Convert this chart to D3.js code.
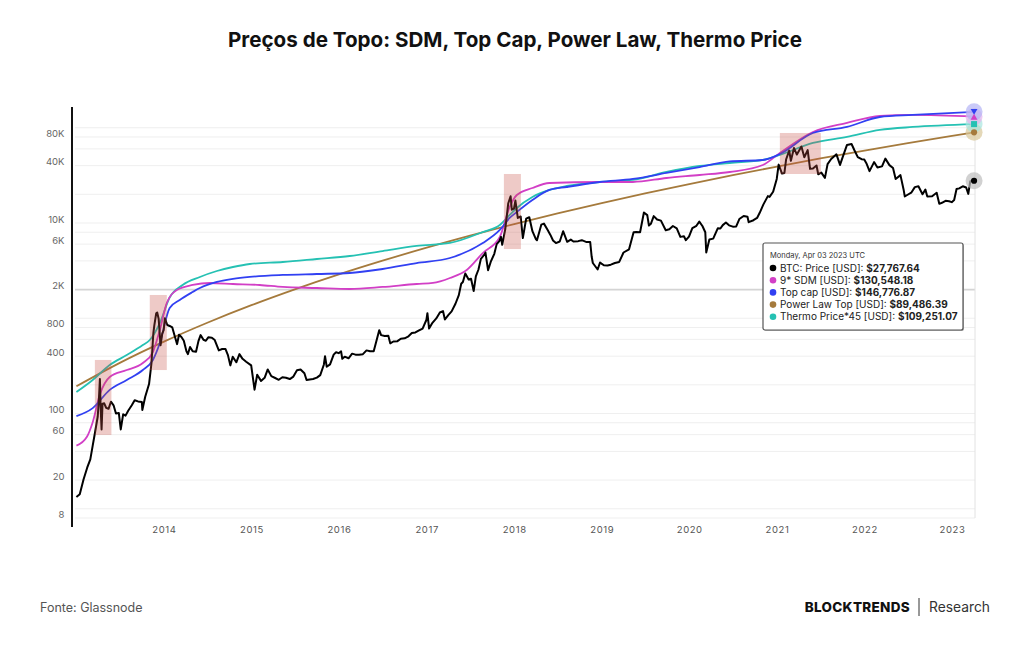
<!DOCTYPE html>
<html>
<head>
<meta charset="utf-8">
<script src="https://cdn.jsdelivr.net/npm/d3@7"></script>
<style>
  body { margin: 0; background: #fff; }
  svg { font-family: Inter, "Noto Sans", sans-serif; }
</style>
</head>
<body>
<div id="chart"></div>
<script>
// BTC price (USD)
var btcPrice = [
  ["2013-01-01",13.3],["2013-01-15",14.2],["2013-01-31",20.4],["2013-02-15",27],["2013-02-28",33],
  ["2013-03-10",46],["2013-03-20",64],["2013-03-31",93],["2013-04-05",142],["2013-04-09",230],
  ["2013-04-12",118],["2013-04-16",68],["2013-04-20",127],["2013-04-27",128],["2013-05-05",115],
  ["2013-05-15",112],["2013-05-25",133],["2013-06-05",122],["2013-06-15",100],["2013-06-27",101],
  ["2013-07-05",68],["2013-07-15",98],["2013-07-25",95],["2013-08-05",107],["2013-08-20",122],
  ["2013-09-01",138],["2013-09-15",134],["2013-10-01",132],["2013-10-03",109],["2013-10-15",150],
  ["2013-10-31",204],["2013-11-10",335],["2013-11-18",700],["2013-11-22",840],["2013-11-30",1130],
  ["2013-12-04",1150],["2013-12-10",990],["2013-12-18",520],["2013-12-25",690],["2013-12-31",750],
  ["2014-01-05",1000],["2014-01-15",850],["2014-01-25",830],["2014-02-05",800],["2014-02-15",650],
  ["2014-02-25",535],["2014-03-05",670],["2014-03-15",635],["2014-03-25",580],["2014-04-05",450],
  ["2014-04-11",420],["2014-04-20",500],["2014-05-01",450],["2014-05-15",445],["2014-05-25",575],
  ["2014-06-03",665],["2014-06-15",595],["2014-06-25",580],["2014-07-05",630],["2014-07-20",625],
  ["2014-08-01",590],["2014-08-18",460],["2014-09-01",475],["2014-09-15",475],["2014-09-25",410],
  ["2014-10-05",320],["2014-10-15",395],["2014-10-30",345],["2014-11-12",420],["2014-11-25",375],
  ["2014-12-10",350],["2014-12-31",320],
  ["2015-01-14",178],["2015-01-25",255],["2015-02-10",220],["2015-02-25",237],["2015-03-10",290],
  ["2015-03-25",247],["2015-04-10",236],["2015-04-25",226],["2015-05-10",240],["2015-05-25",237],
  ["2015-06-10",230],["2015-06-25",244],["2015-07-10",285],["2015-07-25",290],["2015-08-10",265],
  ["2015-08-19",225],["2015-09-01",228],["2015-09-15",230],["2015-10-01",238],["2015-10-15",253],
  ["2015-10-30",325],["2015-11-04",400],["2015-11-11",310],["2015-11-25",328],["2015-12-10",415],
  ["2015-12-20",440],["2015-12-31",430],
  ["2016-01-10",450],["2016-01-15",375],["2016-01-25",395],["2016-02-10",380],["2016-02-25",425],
  ["2016-03-10",415],["2016-03-25",415],["2016-04-10",420],["2016-04-25",460],["2016-05-10",450],
  ["2016-05-25",450],["2016-06-05",575],["2016-06-17",750],["2016-06-25",665],["2016-07-10",650],
  ["2016-07-25",655],["2016-08-02",545],["2016-08-15",570],["2016-09-01",575],["2016-09-15",610],
  ["2016-10-01",615],["2016-10-15",640],["2016-10-31",700],["2016-11-15",710],["2016-11-30",745],
  ["2016-12-15",780],["2016-12-31",965],
  ["2017-01-04",1130],["2017-01-11",780],["2017-01-25",895],["2017-02-10",995],["2017-02-25",1150],
  ["2017-03-10",1190],["2017-03-18",970],["2017-04-01",1080],["2017-04-15",1180],["2017-05-01",1420],
  ["2017-05-15",1750],["2017-05-25",2300],["2017-06-01",2400],["2017-06-11",2950],["2017-06-25",2550],
  ["2017-07-05",2600],["2017-07-16",1930],["2017-07-25",2750],["2017-08-05",3250],["2017-08-15",4200],
  ["2017-08-31",4700],["2017-09-03",4900],["2017-09-14",3200],["2017-09-25",3900],["2017-10-10",4750],
  ["2017-10-20",6000],["2017-10-31",6450],["2017-11-07",7150],["2017-11-12",5900],["2017-11-25",8700],
  ["2017-12-07",16000],["2017-12-17",19100],["2017-12-22",13800],["2017-12-31",14150],
  ["2018-01-06",17200],["2018-01-16",11300],["2018-01-28",11700],["2018-02-06",6950],["2018-02-20",11100],
  ["2018-03-05",11500],["2018-03-18",8200],["2018-04-01",6800],["2018-04-06",6600],["2018-04-24",9600],
  ["2018-05-05",9850],["2018-05-20",8500],["2018-06-01",7500],["2018-06-12",6550],["2018-06-24",6150],
  ["2018-07-10",6400],["2018-07-24",8200],["2018-08-10",6350],["2018-08-25",6700],["2018-09-05",6400],
  ["2018-09-25",6450],["2018-10-10",6600],["2018-10-30",6300],["2018-11-14",6300],["2018-11-20",4450],
  ["2018-11-25",3800],["2018-12-15",3250],["2018-12-25",3850],["2018-12-31",3750],
  ["2019-01-10",3600],["2019-01-25",3580],["2019-02-08",3650],["2019-02-25",3800],["2019-03-15",3900],
  ["2019-04-02",4900],["2019-04-25",5300],["2019-05-14",8000],["2019-05-25",8050],["2019-06-10",8000],
  ["2019-06-26",12900],["2019-07-10",12100],["2019-07-17",9400],["2019-07-25",9800],["2019-08-06",11800],
  ["2019-08-20",10900],["2019-09-05",10600],["2019-09-25",8400],["2019-10-10",8600],["2019-10-25",9300],
  ["2019-11-10",8800],["2019-11-25",7150],["2019-12-10",7250],["2019-12-18",6600],["2019-12-31",7200],
  ["2020-01-14",8850],["2020-01-31",9350],["2020-02-12",10350],["2020-02-25",9300],["2020-03-08",8000],
  ["2020-03-12",4900],["2020-03-25",6700],["2020-04-10",6850],["2020-04-29",8800],["2020-05-10",8750],
  ["2020-05-20",9500],["2020-06-02",10100],["2020-06-15",9450],["2020-07-01",9150],["2020-07-15",9200],
  ["2020-07-28",11000],["2020-08-15",11850],["2020-08-31",11650],["2020-09-05",10200],["2020-09-25",10700],
  ["2020-10-10",11300],["2020-10-21",12800],["2020-11-05",15600],["2020-11-24",19150],["2020-12-01",18800],
  ["2020-12-16",21300],["2020-12-31",29000],
  ["2021-01-08",41000],["2021-01-22",33000],["2021-02-01",33500],["2021-02-08",46400],["2021-02-21",57500],
  ["2021-02-28",45000],["2021-03-13",61200],["2021-03-25",52300],["2021-04-13",63500],["2021-04-25",49000],
  ["2021-05-09",58300],["2021-05-19",37000],["2021-05-31",37300],["2021-06-15",40200],["2021-06-22",32500],
  ["2021-07-05",33800],["2021-07-20",29800],["2021-07-31",41500],["2021-08-15",47000],["2021-09-06",52600],
  ["2021-09-21",40700],["2021-10-01",48200],["2021-10-20",66000],["2021-11-08",67500],["2021-11-20",58000],
  ["2021-12-04",49200],["2021-12-20",46700],["2021-12-31",46300],
  ["2022-01-10",41800],["2022-01-22",35000],["2022-02-10",43600],["2022-02-24",38300],["2022-03-15",39300],
  ["2022-03-29",47400],["2022-04-15",40500],["2022-04-30",37700],["2022-05-11",29000],["2022-05-31",31800],
  ["2022-06-13",22500],["2022-06-18",19000],["2022-06-30",19800],["2022-07-15",20800],["2022-07-30",23800],
  ["2022-08-14",24300],["2022-08-31",20000],["2022-09-12",22400],["2022-09-20",19000],["2022-10-10",19100],
  ["2022-10-29",20800],["2022-11-09",15900],["2022-11-20",16300],["2022-12-05",17100],["2022-12-20",16900],
  ["2022-12-31",16550],
  ["2023-01-10",17400],["2023-01-20",22700],["2023-01-31",23100],["2023-02-15",24300],["2023-03-01",23600],
  ["2023-03-10",20200],["2023-03-18",27400],["2023-03-25",27500],["2023-04-03",27767.64]
];

// 9* SDM
var sdm = [
  ["2013-01-01",46],["2013-02-14",57],["2013-03-10",81],["2013-04-08",156],["2013-05-20",242],
  ["2013-07-30",286],["2013-10-05",339],["2013-11-16",442],["2013-12-15",753],["2014-01-13",1446],
  ["2014-02-24",1981],["2014-05-01",2235],["2014-07-11",2346],["2014-10-16",2290],["2015-02-05",2235],
  ["2015-05-12",2130],["2015-10-01",2078],["2016-02-15",2028],["2016-07-01",2130],["2016-11-20",2290],
  ["2017-01-27",2346],["2017-04-08",2647],["2017-06-17",3212],["2017-08-23",4840],["2017-11-02",7130],
  ["2017-12-13",14720],["2018-01-12",19690],["2018-03-18",23320],["2018-05-28",26300],["2018-12-24",26950],
  ["2019-05-11",26950],["2019-09-28",29690],["2020-02-13",31920],["2020-06-18",34320],["2020-11-03",40640],
  ["2021-01-13",54330],["2021-05-31",90300],["2021-10-20",112300],["2022-03-06",132900],["2022-07-21",136200],
  ["2023-04-03",130548.18]
];

// Top cap
var topCap = [
  ["2013-01-01",94],["2013-03-10",114],["2013-05-20",177],["2013-07-30",225],["2013-10-05",286],
  ["2013-11-16",365],["2013-12-15",550],["2014-01-25",1282],["2014-03-08",1556],["2014-05-01",1887],
  ["2014-05-31",2078],["2014-08-10",2403],["2014-10-16",2585],["2014-12-25",2713],["2015-05-12",2847],
  ["2015-10-01",2916],["2016-02-15",2985],["2016-07-01",3290],["2016-11-20",3800],["2017-04-08",4290],
  ["2017-08-23",6170],["2017-11-02",8450],["2017-12-13",11290],["2018-01-12",13050],["2018-03-18",17450],
  ["2018-05-28",22220],["2018-08-08",23880],["2018-12-24",26950],["2019-05-11",28980],["2019-09-28",33500],
  ["2020-02-13",38700],["2020-06-18",44250],["2020-11-03",45870],["2021-01-13",53000],["2021-05-31",88100],
  ["2021-10-20",101900],["2022-03-06",129700],["2022-07-21",136200],["2023-04-03",146776.87]
];

// Power Law Top
var powerLaw = [
  ["2013-01-01",193],["2013-07-01",340],["2014-01-01",568],["2014-07-01",897],["2015-01-01",1371],
  ["2015-07-01",2011],["2016-01-01",2886],["2016-07-01",4018],["2017-01-01",5513],["2017-07-01",7370],
  ["2018-01-01",9750],["2018-07-01",12610],["2019-01-01",16200],["2019-07-01",20460],["2020-01-01",25650],
  ["2020-07-01",31780],["2021-01-01",39120],["2021-07-01",47580],["2022-01-01",57540],["2022-07-01",68990],
  ["2023-01-01",82340],["2023-04-03",89486.39]
];

// Thermo Price * 45
var thermo = [
  ["2013-01-01",168],["2013-03-10",225],["2013-05-20",323],["2013-07-30",411],["2013-10-05",524],
  ["2013-11-03",591],["2013-12-15",891],["2014-01-25",1650],["2014-03-20",2235],["2014-05-31",2713],
  ["2014-08-10",3134],["2014-10-16",3452],["2014-12-25",3712],["2015-05-12",3896],["2015-10-01",4190],
  ["2016-02-15",4505],["2016-07-01",5080],["2016-11-20",5740],["2017-04-08",6170],["2017-08-23",8050],
  ["2017-11-02",9530],["2017-12-13",12140],["2018-01-12",14380],["2018-03-18",18760],["2018-05-28",22220],
  ["2018-08-08",24470],["2018-12-24",26950],["2019-05-11",28290],["2019-09-28",34320],["2020-02-13",39680],
  ["2020-06-18",42660],["2020-11-03",45870],["2021-01-13",51760],["2021-05-31",69200],["2021-10-20",80000],
  ["2022-03-06",94750],["2022-07-21",101900],["2023-04-03",109251.07]
];

// highlighted top zones: [start, end, low, high]
var topZones = [
  ["2013-03-19","2013-05-27",59.5,365],
  ["2013-11-03","2014-01-13",286,1755],
  ["2017-11-19","2018-01-29",5330,32700],
  ["2021-01-13","2021-07-03",32700,88100]
];

var yearTicks = [2014,2015,2016,2017,2018,2019,2020,2021,2022,2023];
var yLabelTicks = [8,20,60,100,400,800,2000,6000,10000,40000,80000];
var yGridTicks = [8,10,20,40,60,80,100,200,400,600,800,1000,2000,4000,6000,8000,10000,20000,40000,60000,80000,100000];

var series = [
  {name: "Power Law Top", data: powerLaw, color: "#a57a3c", symbol: d3.symbolCircle, halo: "#d8c79a"},
  {name: "Thermo Price*45", data: thermo, color: "#25c1b3", symbol: d3.symbolSquare, halo: "#a8e6df"},
  {name: "9* SDM", data: sdm, color: "#d23fc6", symbol: d3.symbolTriangle, halo: "#e6b3ec"},
  {name: "Top cap", data: topCap, color: "#3140f2", symbol: "down", halo: "#b4b3f5"},
  {name: "BTC: Price", data: btcPrice, color: "#000000", symbol: d3.symbolCircle, halo: "#bdbdbd"}
];

var tipRows = [
  {label: "BTC: Price [USD]: ", value: "$27,767.64", color: "#000000"},
  {label: "9* SDM [USD]: ", value: "$130,548.18", color: "#d23fc6"},
  {label: "Top cap [USD]: ", value: "$146,776.87", color: "#3140f2"},
  {label: "Power Law Top [USD]: ", value: "$89,486.39", color: "#a57a3c"},
  {label: "Thermo Price*45 [USD]: ", value: "$109,251.07", color: "#25c1b3"}
];

var width = 1024, height = 645;
var parse = d3.utcParse("%Y-%m-%d");

var svg = d3.select("#chart").append("svg")
  .attr("width", width)
  .attr("height", height);

var x = d3.scaleUtc()
  .domain([parse("2013-01-01"), parse("2023-01-01")])
  .range([76.4, 952]);
var y = d3.scaleLog()
  .domain([8, 160000])
  .range([518, 108.3]);

var plotLeft = 75, plotRight = 975;

// title
svg.append("text")
  .attr("x", 515).attr("y", 47)
  .attr("text-anchor", "middle")
  .style("font-size", "20.6px")
  .style("font-weight", 700)
  .attr("fill", "#111")
  .text("Preços de Topo: SDM, Top Cap, Power Law, Thermo Price");

// grid
svg.append("g")
  .selectAll("line")
  .data(yGridTicks)
  .enter().append("line")
  .attr("x1", plotLeft).attr("x2", plotRight)
  .attr("y1", function (d) { return y(d); })
  .attr("y2", function (d) { return y(d); })
  .attr("stroke", function (d) { return d === 2000 ? "#d4d4d4" : "#efefef"; })
  .attr("stroke-width", function (d) { return d === 2000 ? 1.6 : 1; });

svg.append("line")
  .attr("x1", plotRight).attr("x2", plotRight)
  .attr("y1", 108).attr("y2", 518)
  .attr("stroke", "#e2e2e2");

// y labels
function fmtY(v) {
  return v >= 1000 ? (v / 1000) + "K" : String(v);
}
var yAxis = svg.append("g")
  .attr("transform", "translate(64.5,-4)")
  .call(d3.axisLeft(y).tickValues(yLabelTicks).tickFormat(fmtY).tickSize(0).tickPadding(0));
yAxis.select(".domain").remove();
yAxis.selectAll("text")
  .attr("fill", "#666")
  .style("font-family", "Inter, sans-serif")
  .style("font-size", "9.5px");

svg.append("line")
  .attr("x1", 72).attr("x2", 72)
  .attr("y1", 107).attr("y2", 527)
  .attr("stroke", "#111")
  .attr("stroke-width", 2);

// x labels
var xAxis = svg.append("g")
  .attr("transform", "translate(0,522)")
  .call(d3.axisBottom(x)
    .tickValues(yearTicks.map(function (yr) { return new Date(Date.UTC(yr, 0, 1)); }))
    .tickFormat(d3.utcFormat("%Y"))
    .tickSize(0).tickPadding(4));
xAxis.select(".domain").remove();
xAxis.selectAll("text")
  .attr("fill", "#555")
  .style("font-family", "Inter, sans-serif")
  .style("font-size", "9.5px")
  .style("letter-spacing", "0.6px");

// lines
var line = d3.line()
  .x(function (d) { return x(parse(d[0])); })
  .y(function (d) { return y(d[1]); });

svg.append("g")
  .selectAll("path")
  .data(series)
  .enter().append("path")
  .attr("fill", "none")
  .attr("stroke", function (s) { return s.color; })
  .attr("stroke-width", function (s) { return s.name === "BTC: Price" ? 2 : 1.8; })
  .attr("stroke-linejoin", "round")
  .attr("d", function (s) {
    return line.curve(s.name === "BTC: Price" ? d3.curveLinear : d3.curveMonotoneX)(s.data);
  });

// top zones
svg.append("g")
  .selectAll("rect")
  .data(topZones)
  .enter().append("rect")
  .attr("x", function (d) { return x(parse(d[0])); })
  .attr("y", function (d) { return y(d[3]); })
  .attr("width", function (d) { return x(parse(d[1])) - x(parse(d[0])); })
  .attr("height", function (d) { return y(d[2]) - y(d[3]); })
  .attr("fill", "rgb(200,80,70)")
  .attr("fill-opacity", 0.3);

// end markers
var mk = svg.append("g");
series.forEach(function (s) {
  var last = s.data[s.data.length - 1];
  mk.append("circle")
    .attr("cx", x(parse(last[0]))).attr("cy", y(last[1])).attr("r", 8.5)
    .attr("fill", s.halo).attr("fill-opacity", 0.7);
});
series.forEach(function (s) {
  var last = s.data[s.data.length - 1];
  var cx = x(parse(last[0])), cy = y(last[1]);
  var type = s.symbol === "down" ? d3.symbolTriangle : s.symbol;
  var isTri = type === d3.symbolTriangle;
  mk.append("path")
    .attr("d", d3.symbol().type(type).size(isTri ? 20 : (s.symbol === d3.symbolSquare ? 36 : 30))())
    .attr("transform", "translate(" + cx + "," + (cy + (s.symbol === "down" ? -1 : isTri ? 1 : 0)) + ")" +
      (s.symbol === "down" ? " rotate(180)" : ""))
    .attr("fill", s.color);
});

// tooltip
var tip = svg.append("g").attr("transform", "translate(763,243)");
tip.append("rect")
  .attr("x", 1).attr("y", 1)
  .attr("width", 200).attr("height", 87)
  .attr("rx", 2)
  .attr("fill", "#bbb");
tip.append("rect")
  .attr("width", 200).attr("height", 87)
  .attr("rx", 2)
  .attr("fill", "#fff")
  .attr("stroke", "#555")
  .attr("stroke-width", 1.2);
tip.append("text")
  .attr("x", 7).attr("y", 15)
  .style("font-size", "7.5px")
  .attr("fill", "#333")
  .text("Monday, Apr 03 2023 UTC");
var rows = tip.selectAll("g.row")
  .data(tipRows)
  .enter().append("g")
  .attr("transform", function (d, i) { return "translate(0," + (25 + i * 12.2) + ")"; });
rows.append("circle")
  .attr("cx", 10).attr("cy", 0).attr("r", 3.3)
  .attr("fill", function (d) { return d.color; });
var rt = rows.append("text")
  .attr("x", 17).attr("y", 3.5)
  .style("font-size", "10px")
  .attr("fill", "#222");
rt.append("tspan").text(function (d) { return d.label; });
rt.append("tspan").style("font-weight", 700).text(function (d) { return d.value; });

// footer
svg.append("text")
  .attr("x", 40).attr("y", 612)
  .style("font-size", "12.5px")
  .attr("fill", "#555")
  .text("Fonte: Glassnode");
svg.append("text")
  .attr("x", 910).attr("y", 612)
  .attr("text-anchor", "end")
  .style("font-size", "13.5px")
  .style("font-weight", 800)
  .style("letter-spacing", "0.3px")
  .attr("fill", "#111")
  .text("BLOCKTRENDS");
svg.append("line")
  .attr("x1", 919).attr("x2", 919)
  .attr("y1", 598).attr("y2", 616)
  .attr("stroke", "#333").attr("stroke-width", 1);
svg.append("text")
  .attr("x", 929).attr("y", 612)
  .style("font-size", "13.8px")
  .attr("fill", "#333")
  .text("Research");
</script>
</body>
</html>
